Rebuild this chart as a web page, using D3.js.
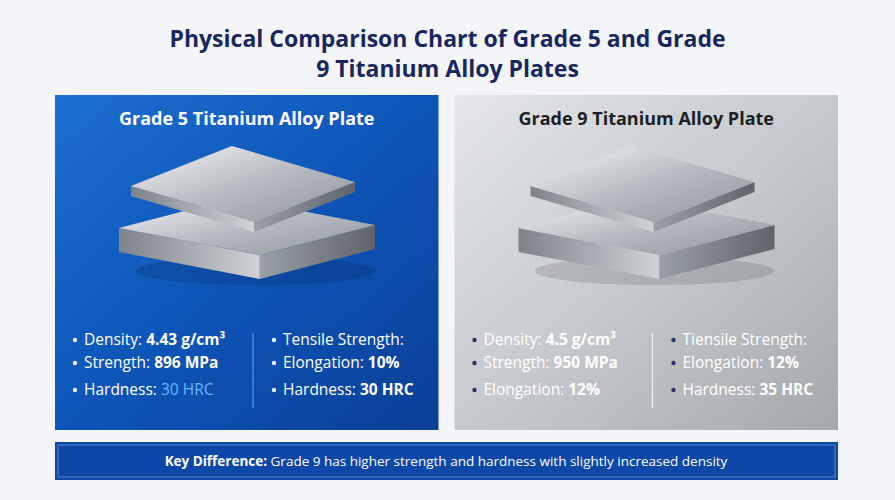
<!DOCTYPE html>
<html><head><meta charset="utf-8">
<script src="https://cdn.jsdelivr.net/npm/d3@7"></script>
<style>body{margin:0;background:#f3f5f9}</style>
</head><body>
<svg id="chart"></svg>
<script>
// Textes du graphique
const titleLines = ["Physical Comparison Chart of Grade 5 and Grade", "9 Titanium Alloy Plates"];
const panelTitles = ["Grade 5 Titanium Alloy Plate", "Grade 9 Titanium Alloy Plate"];
const leftSpecs = [
  [["Density: ", "4.43 g/cm³"], ["Strength: ", "896 MPa"], ["Hardness:  ", "30 HRC"]],
  [["Density: ", "4.5 g/cm³"], ["Strength:  ", " 950 MPa"], ["Elongation: ", "12%"]]
];
const rightSpecs = [
  [["Tensile Strength:", ""], ["Elongation: ", "10%"], ["Hardness: ", "30 HRC"]],
  [["Tiensile Strength:", ""], ["Elongation: ", "12%"], ["Hardness: ", "35 HRC"]]
];
const keyText = ["Key Difference:", " Grade 9 has higher strength and hardness with slightly increased density"];

const width = 895, height = 500;
const svg = d3.select("#chart").attr("width", width).attr("height", height)
  .style("font-family", "'Open Sans', sans-serif");
const defs = svg.append("defs");

function grad(id, stops, x2, y2) {
  const g = defs.append("linearGradient").attr("id", id)
    .attr("x1", 0).attr("y1", 0).attr("x2", x2).attr("y2", y2);
  stops.forEach((c, i) => g.append("stop").attr("offset", i / (stops.length - 1)).attr("stop-color", c));
}
grad("blue", ["#1b6fd0", "#0e55b8", "#0a3f96"], 1, 1);
grad("grey", ["#e4e6e9", "#c6c9cd", "#a4a8ad"], 1, 1);
grad("metalTop", ["#f4f5f7", "#b8bcc2", "#8e939a"], 1, 1);
grad("metalSide", ["#9aa0a7", "#5f646b"], 1, 0);
grad("metalSide2", ["#7d838a", "#cfd3d8"], 1, 0);

svg.append("rect").attr("width", width).attr("height", height).attr("fill", "#f3f5f9");

svg.selectAll(".title").data(titleLines).enter().append("text")
  .attr("x", width / 2).attr("y", (d, i) => 47 + i * 30)
  .attr("text-anchor", "middle").attr("font-size", 23).attr("font-weight", 700)
  .attr("fill", "#18275e").text(d => d);

const xPanel = d3.scaleBand().domain([0, 1]).range([55, 838]).paddingInner(0.04);
const dark = [false, true];

const panels = svg.selectAll(".panel").data([0, 1]).enter().append("g")
  .attr("transform", d => `translate(${xPanel(d)},95)`);
panels.append("rect").attr("width", xPanel.bandwidth()).attr("height", 335)
  .attr("fill", d => d ? "url(#grey)" : "url(#blue)");
panels.append("text").attr("x", xPanel.bandwidth() / 2).attr("y", 30)
  .attr("text-anchor", "middle").attr("font-size", 18).attr("font-weight", 700)
  .attr("fill", d => d ? "#1d1f24" : "#fff").text(d => panelTitles[d]);

// Plaques (décor)
function box(g, cx, cy, w, h, t) {
  const top = [[cx - w, cy], [cx - w * 0.1, cy - h], [cx + w, cy - h * 0.1], [cx + w * 0.1, cy + h * 0.9]];
  g.append("polygon").attr("points", [top[0], top[3], [top[3][0], top[3][1] + t], [top[0][0], top[0][1] + t]].join(" "))
    .attr("fill", "url(#metalSide2)");
  g.append("polygon").attr("points", [top[3], top[2], [top[2][0], top[2][1] + t], [top[3][0], top[3][1] + t]].join(" "))
    .attr("fill", "url(#metalSide)");
  g.append("polygon").attr("points", top.join(" ")).attr("fill", "url(#metalTop)");
}
panels.each(function() {
  const g = d3.select(this);
  g.append("ellipse").attr("cx", 200).attr("cy", 176).attr("rx", 120).attr("ry", 14)
    .attr("fill", "#000").attr("opacity", 0.12);
  box(g, 192, 133, 128, 30, 24);
  box(g, 188, 91, 112, 40, 10);
});

function specList(g, data, x0, isGrey, panel) {
  const y = d3.scalePoint().domain([0, 1, 2]).range([250, 296]);
  const row = g.selectAll(null).data(data).enter().append("g")
    .attr("transform", (d, i) => `translate(${x0},${y(i) + (i === 2 ? 4 : 0)})`);
  row.append("circle").attr("cx", 0).attr("cy", -5).attr("r", 2.2)
    .attr("fill", isGrey ? "#2a3566" : "#e8f0ff");
  const t = row.append("text").attr("x", 9).attr("font-size", 15.5).attr("fill", "#fff");
  t.append("tspan").text(d => d[0]);
  // valeur de dureté grade 5 (colonne gauche) en bleu clair, non gras
  const hl = (d, i) => panel === 0 && x0 < 100 && i === 2;
  t.append("tspan").attr("font-weight", (d, i) => hl(d, i) ? 400 : 700)
    .attr("fill", (d, i) => hl(d, i) ? "#6ab4ff" : "#fff").text(d => d[1]);
}
panels.each(function(d) {
  const g = d3.select(this);
  specList(g, leftSpecs[d], 20, dark[d], d);
  specList(g, rightSpecs[d], 219, dark[d], d);
  g.append("line").attr("x1", 198).attr("x2", 198).attr("y1", 238).attr("y2", 313)
    .attr("stroke", d ? "#eef0f2" : "#5f95e0").attr("stroke-width", 1.2);
});

const key = svg.append("g").attr("transform", "translate(55,442)");
key.append("rect").attr("width", 783).attr("height", 38).attr("fill", "#0d47a8");
key.append("rect").attr("x", 3).attr("y", 3).attr("width", 777).attr("height", 32)
  .attr("fill", "none").attr("stroke", "#fff").attr("stroke-opacity", 0.35);
const kt = key.append("text").attr("x", 391).attr("y", 24).attr("text-anchor", "middle")
  .attr("font-size", 13.5).attr("fill", "#fff");
kt.append("tspan").attr("font-weight", 700).text(keyText[0]);
kt.append("tspan").text(keyText[1]);
</script>
</body></html>
